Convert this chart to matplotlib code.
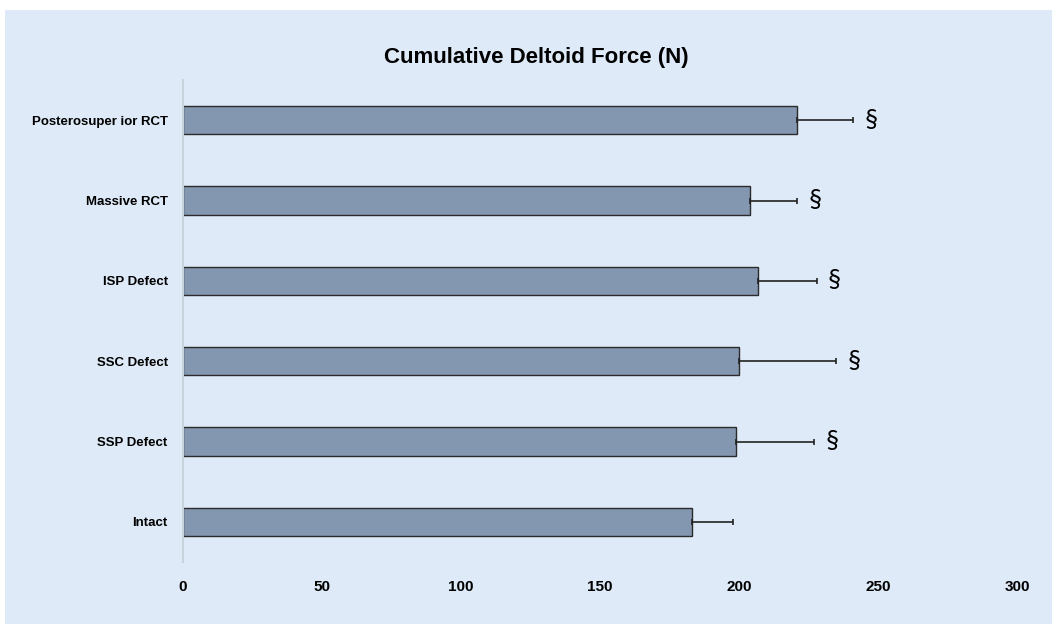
import matplotlib
matplotlib.use("Agg")
import matplotlib.pyplot as plt
from matplotlib.patches import Rectangle

plt.rcParams['font.family'] = ['Liberation Sans', 'DejaVu Sans']

# conditions, bottom to top
conditions = ["Intact", "SSP Defect", "SSC Defect", "ISP Defect", "Massive RCT", "Posterosuper ior RCT"]
force_mean = [183, 199, 200, 207, 204, 221]
force_sd = [15, 28, 35, 21, 17, 20]
significant = [False, True, True, True, True, True]
xticks = [0, 50, 100, 150, 200, 250, 300]

panel_col = "#DEEAF7"
bar_col = "#8497B0"

fig = plt.figure(figsize=(10.52, 6.24), dpi=100)
fig.patch.set_facecolor("white")
fig.patches.append(Rectangle((5 / 1052, 0), 1, 1 - 10 / 624, transform=fig.transFigure,
                             facecolor=panel_col, edgecolor="none", zorder=-10))

ax = fig.add_axes([183 / 1052, 1 - 562 / 624, (1017 - 183) / 1052, (562 - 80) / 624])
ax.set_facecolor("none")

ypos = list(range(len(conditions)))
ax.barh(ypos, force_mean, height=0.35, color=bar_col, edgecolor="#2b2b2b", linewidth=1.0, zorder=2)
ax.errorbar(force_mean, ypos, xerr=[[0] * len(force_sd), force_sd], fmt="none",
            ecolor="#222222", elinewidth=1.2, capsize=2.5, capthick=1.2, zorder=3)

# significance markers
for y, m, s, sig in zip(ypos, force_mean, force_sd, significant):
    if sig:
        ax.annotate("\u00a7", xy=(m + s, y), xytext=(8, 0), textcoords="offset points",
                    ha="left", va="center", fontsize=19, family=["Carlito", "Liberation Sans", "DejaVu Sans"])

ax.set_xlim(0, 300)
ax.set_ylim(-0.5, len(conditions) - 0.5)
ax.set_xticks(xticks)
ax.set_xticklabels([str(t) for t in xticks], fontsize=11, fontweight="bold")
ax.set_yticks(ypos)
ax.set_yticklabels(conditions, fontsize=9.5, fontweight="bold")
ax.tick_params(axis="both", length=0)
ax.tick_params(axis="x", pad=13)
ax.tick_params(axis="y", pad=11)

for side in ["top", "right", "bottom"]:
    ax.spines[side].set_visible(False)
ax.spines["left"].set_color("#C9D3DE")
ax.spines["left"].set_linewidth(1.5)

fig.text(536 / 1052, 1 - 57 / 624, "Cumulative Deltoid Force (N)", ha="center", va="center",
         fontsize=16, fontweight="bold")

fig.savefig("out.png", dpi=100)
